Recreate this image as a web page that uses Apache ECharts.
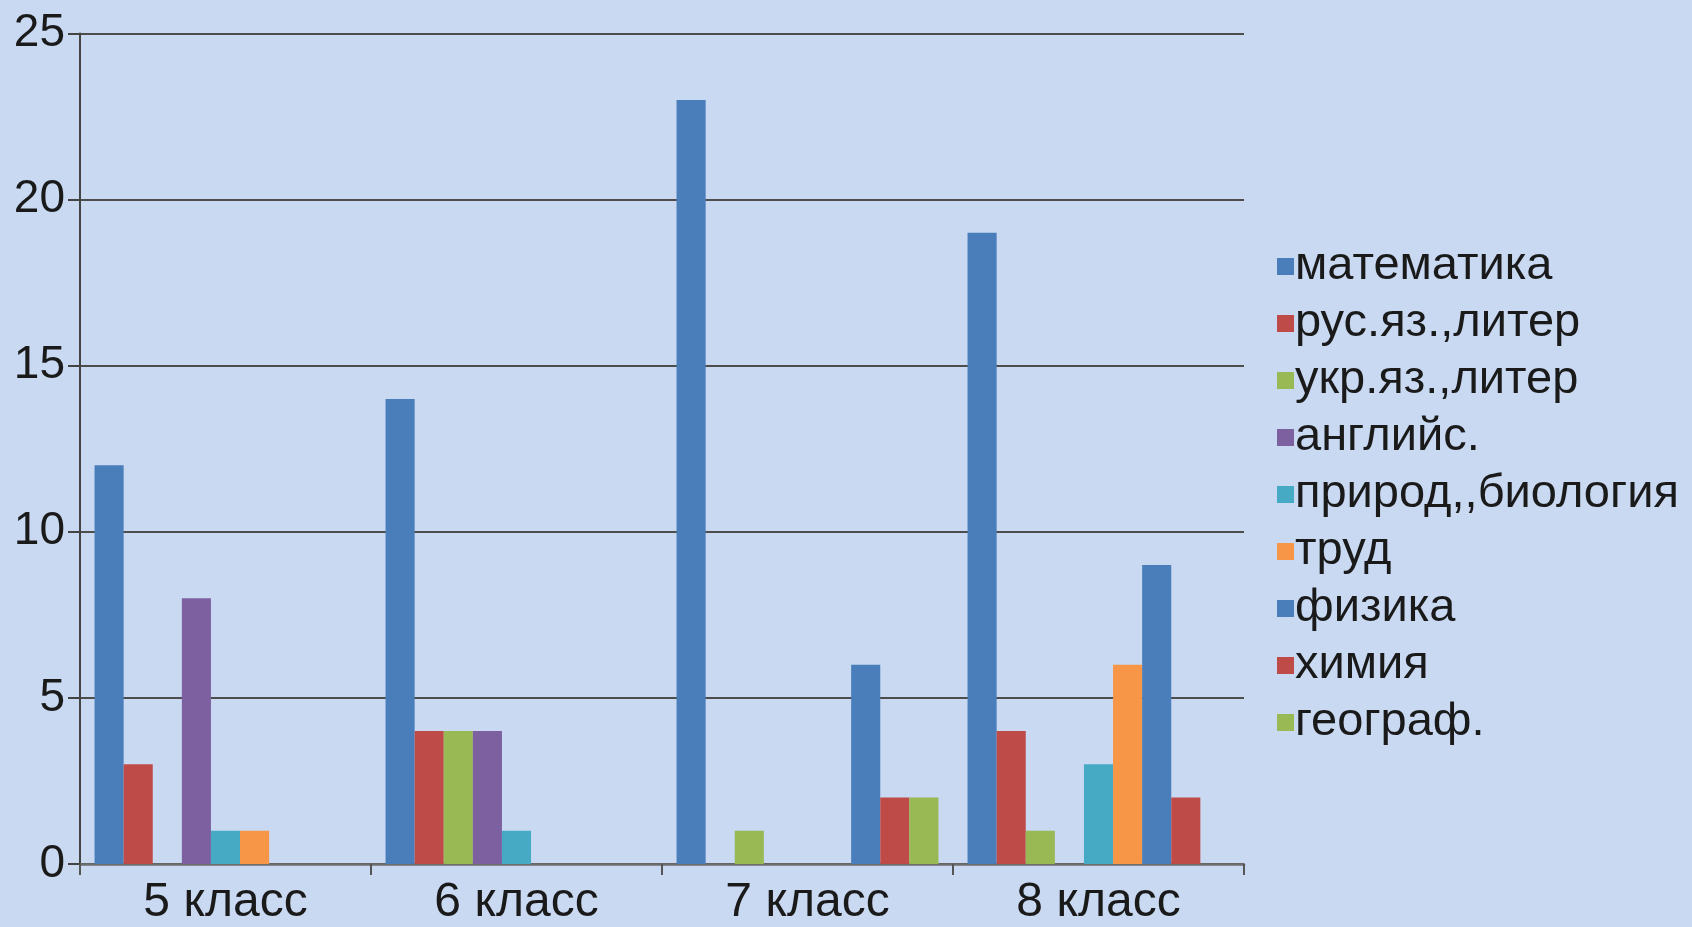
<!DOCTYPE html>
<html>
<head>
<meta charset="utf-8">
<script src="https://cdn.jsdelivr.net/npm/echarts@6/dist/echarts.min.js"></script>
<style>
html,body{margin:0;padding:0;width:1692px;height:927px;overflow:hidden;background:#c9d9f2;}
#chart{width:1692px;height:927px;}
</style>
</head>
<body>
<div id="chart"></div>
<script>
const categories = ['5 класс', '6 класс', '7 класс', '8 класс'];
const seriesNames = ['математика', 'рус.яз.,литер', 'укр.яз.,литер', 'английс.', 'природ,,биология', 'труд', 'физика', 'химия', 'географ.'];
const matematika = [12, 14, 23, 19];
const rusYaz = [3, 4, 0, 4];
const ukrYaz = [0, 4, 1, 1];
const angliys = [8, 4, 0, 0];
const priroda = [1, 1, 0, 3];
const trud = [1, 0, 0, 6];
const fizika = [0, 0, 6, 9];
const himiya = [0, 0, 2, 2];
const geograf = [0, 0, 2, 0];
const yTicks = [0, 5, 10, 15, 20, 25];
const colors = ['#4a7ebb', '#be4b48', '#98b954', '#7d60a0', '#46aac5', '#f79646', '#4a7ebb', '#be4b48', '#98b954'];

const values = [matematika, rusYaz, ukrYaz, angliys, priroda, trud, fizika, himiya, geograf];
const font = "'Liberation Sans', Arial, sans-serif";

const chart = echarts.init(document.getElementById('chart'), null, {renderer: 'canvas'});
chart.setOption({
  backgroundColor: '#c9d9f2',
  animation: false,
  color: colors,
  textStyle: {fontFamily: font},
  grid: {left: 80, right: 448, top: 33.5, bottom: 60.5, containLabel: false},
  legend: {
    orient: 'vertical',
    left: 1272,
    top: 238,
    itemWidth: 17,
    itemHeight: 17,
    itemGap: 10,
    icon: 'rect',
    data: seriesNames,
    textStyle: {fontSize: 47, color: '#1a1a1a', fontFamily: font, lineHeight: 46, padding: [0, 0, 0, -4]}
  },
  xAxis: {
    type: 'category',
    data: categories,
    axisLine: {lineStyle: {color: '#6e6e6e', width: 2.5}},
    axisTick: {show: true, length: 11, alignWithLabel: false, lineStyle: {color: '#555', width: 2}},
    axisLabel: {fontSize: 48, color: '#1a1a1a', margin: 15, fontFamily: font},
    splitLine: {show: false}
  },
  yAxis: {
    type: 'value',
    min: yTicks[0],
    max: yTicks[yTicks.length - 1],
    interval: 5,
    axisLine: {show: true, lineStyle: {color: '#444', width: 2}},
    axisTick: {show: true, length: 12, lineStyle: {color: '#444', width: 2}},
    axisLabel: {fontSize: 46, color: '#1a1a1a', margin: 15, fontFamily: font},
    splitLine: {show: true, lineStyle: {color: '#4d4d4d', width: 2}}
  },
  series: seriesNames.map((name, i) => ({
    name: name,
    type: 'bar',
    data: values[i],
    barGap: '0%',
    barCategoryGap: '10%',
    itemStyle: {color: colors[i]}
  }))
});
</script>
</body>
</html>
